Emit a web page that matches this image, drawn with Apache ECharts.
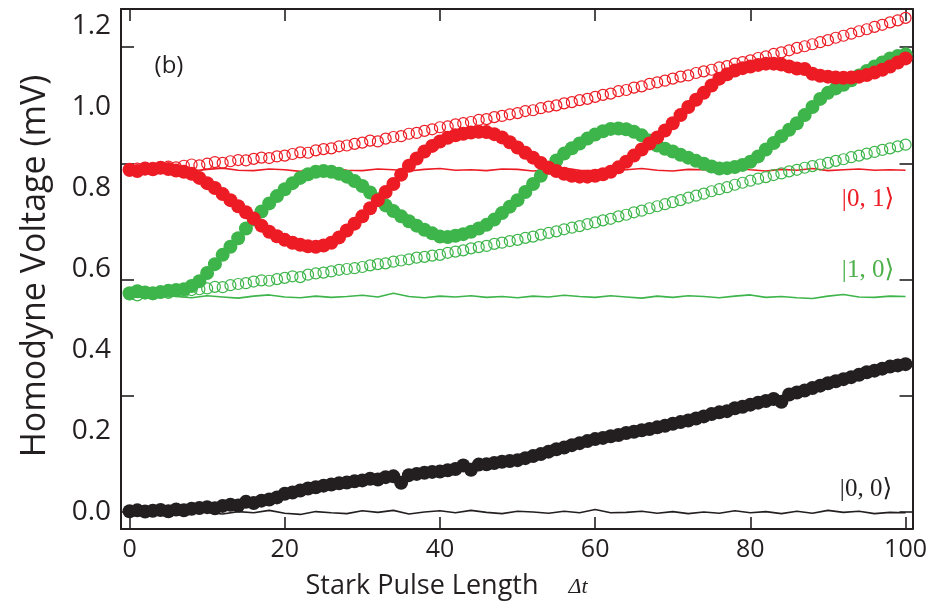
<!DOCTYPE html>
<html>
<head>
<meta charset="utf-8">
<script src="https://cdn.jsdelivr.net/npm/echarts@6/dist/echarts.min.js"></script>
<style>
html,body{margin:0;padding:0;background:#fff;}
#chart{width:930px;height:607px;}
</style>
</head>
<body>
<div id="chart"></div>
<script>
// ---------- data ----------
const pulseLength = [0,1,2,3,4,5,6,7,8,9,10,11,12,13,14,15,16,17,18,19,20,21,22,23,24,25,26,27,28,29,30,31,32,33,34,35,36,37,38,39,40,41,42,43,44,45,46,47,48,49,50,51,52,53,54,55,56,57,58,59,60,61,62,63,64,65,66,67,68,69,70,71,72,73,74,75,76,77,78,79,80,81,82,83,84,85,86,87,88,89,90,91,92,93,94,95,96,97,98,99,100];
const lineX = [0,2,4,6,8,10,12,14,16,18,20,22,24,26,28,30,32,34,36,38,40,42,44,46,48,50,52,54,56,58,60,62,64,66,68,70,72,74,76,78,80,82,84,86,88,90,92,94,96,98,100];

const redOpen = [0.843,0.848,0.846,0.850,0.849,0.853,0.851,0.855,0.858,0.856,
 0.860,0.864,0.862,0.866,0.869,0.868,0.872,0.875,0.874,0.878,
 0.880,0.884,0.888,0.887,0.893,0.896,0.898,0.903,0.905,0.909,
 0.912,0.917,0.915,0.922,0.926,0.928,0.934,0.936,0.941,0.945,
 0.950,0.952,0.957,0.960,0.963,0.968,0.970,0.975,0.978,0.982,
 0.985,0.990,0.992,0.997,1.001,1.004,1.009,1.012,1.017,1.020,
 1.025,1.030,1.033,1.039,1.042,1.048,1.051,1.057,1.061,1.065,
 1.070,1.075,1.078,1.084,1.088,1.092,1.098,1.101,1.107,1.111,
 1.115,1.121,1.125,1.131,1.135,1.140,1.146,1.150,1.155,1.160,
 1.165,1.171,1.176,1.181,1.187,1.192,1.198,1.203,1.209,1.214,1.220];

const redFilled = [0.845,0.842,0.848,0.846,0.850,0.847,0.843,0.840,0.835,0.825,
 0.812,0.800,0.785,0.770,0.755,0.740,0.725,0.707,0.692,0.681,
 0.672,0.665,0.660,0.656,0.655,0.658,0.665,0.678,0.695,0.712,
 0.730,0.750,0.770,0.790,0.810,0.833,0.855,0.873,0.890,0.904,
 0.915,0.924,0.930,0.934,0.937,0.939,0.938,0.933,0.925,0.913,
 0.900,0.887,0.875,0.862,0.850,0.842,0.835,0.830,0.828,0.828,
 0.830,0.834,0.840,0.851,0.865,0.880,0.895,0.910,0.925,0.942,
 0.960,0.980,1.000,1.018,1.035,1.053,1.070,1.081,1.090,1.096,
 1.100,1.104,1.107,1.107,1.105,1.100,1.095,1.094,1.082,1.077,
 1.075,1.073,1.072,1.073,1.075,1.079,1.085,1.092,1.100,1.110,1.120];

const greenOpen = [0.537,0.535,0.540,0.538,0.542,0.541,0.545,0.544,0.548,0.550,
 0.552,0.556,0.555,0.560,0.563,0.565,0.569,0.572,0.571,0.575,
 0.578,0.582,0.580,0.586,0.589,0.591,0.594,0.598,0.600,0.602,
 0.605,0.609,0.612,0.614,0.618,0.621,0.624,0.628,0.630,0.633,
 0.635,0.640,0.643,0.646,0.651,0.654,0.657,0.662,0.665,0.669,
 0.672,0.677,0.680,0.685,0.689,0.693,0.698,0.702,0.706,0.711,
 0.715,0.720,0.724,0.730,0.734,0.740,0.744,0.750,0.755,0.760,
 0.765,0.770,0.776,0.781,0.786,0.792,0.797,0.802,0.808,0.813,
 0.818,0.823,0.827,0.832,0.836,0.841,0.845,0.850,0.854,0.858,
 0.862,0.867,0.871,0.876,0.880,0.885,0.889,0.894,0.898,0.903,0.907];

const greenFilled = [0.540,0.545,0.542,0.540,0.543,0.546,0.548,0.550,0.558,0.570,
 0.590,0.612,0.635,0.655,0.676,0.700,0.722,0.742,0.762,0.780,
 0.797,0.812,0.825,0.834,0.840,0.842,0.840,0.835,0.828,0.817,
 0.805,0.789,0.772,0.757,0.743,0.730,0.718,0.707,0.697,0.688,
 0.680,0.679,0.682,0.686,0.692,0.700,0.709,0.722,0.738,0.754,
 0.770,0.790,0.810,0.830,0.850,0.868,0.885,0.898,0.910,0.922,
 0.932,0.940,0.946,0.947,0.945,0.939,0.930,0.917,0.905,0.897,
 0.890,0.882,0.875,0.867,0.860,0.853,0.848,0.849,0.852,0.857,
 0.865,0.878,0.895,0.911,0.928,0.944,0.960,0.980,1.000,1.020,
 1.035,1.046,1.055,1.066,1.078,1.089,1.100,1.110,1.120,1.126,1.130];

const blackFilled = [0.002,0.004,0.001,0.003,0.005,0.002,0.006,0.004,0.008,0.010,
 0.012,0.009,0.015,0.018,0.016,0.025,0.022,0.028,0.031,0.036,
 0.045,0.048,0.053,0.058,0.061,0.065,0.068,0.071,0.073,0.076,
 0.078,0.082,0.080,0.086,0.088,0.072,0.091,0.094,0.097,0.099,
 0.100,0.103,0.106,0.115,0.104,0.117,0.118,0.121,0.124,0.126,
 0.128,0.133,0.138,0.143,0.149,0.155,0.159,0.165,0.170,0.175,
 0.180,0.183,0.187,0.190,0.195,0.198,0.202,0.205,0.209,0.213,
 0.218,0.222,0.226,0.231,0.236,0.242,0.246,0.249,0.256,0.260,
 0.265,0.270,0.274,0.279,0.272,0.290,0.295,0.300,0.306,0.312,
 0.318,0.323,0.328,0.333,0.339,0.345,0.349,0.354,0.359,0.362,0.365];

const redLine = [0.846,0.843,0.848,0.845,0.842,0.846,0.849,0.844,0.843,0.847,
 0.845,0.841,0.846,0.850,0.844,0.843,0.847,0.845,0.842,0.846,
 0.848,0.844,0.845,0.843,0.847,0.846,0.842,0.845,0.849,0.844,
 0.843,0.846,0.845,0.848,0.844,0.842,0.846,0.845,0.843,0.849,
 0.845,0.842,0.846,0.844,0.848,0.843,0.845,0.847,0.844,0.845,0.844];

const greenLine = [0.533,0.530,0.535,0.532,0.529,0.534,0.531,0.528,0.533,0.536,
 0.531,0.529,0.533,0.530,0.532,0.535,0.531,0.540,0.532,0.529,
 0.533,0.531,0.534,0.530,0.532,0.529,0.533,0.531,0.535,0.532,
 0.530,0.534,0.531,0.528,0.533,0.530,0.534,0.532,0.529,0.533,
 0.536,0.530,0.532,0.529,0.527,0.533,0.537,0.531,0.530,0.533,0.532];

const blackLine = [0.002,-0.002,0.001,-0.004,0.003,-0.001,-0.005,0.001,-0.002,0.004,
 -0.003,-0.006,0.001,-0.002,-0.004,0.003,-0.001,0.004,-0.005,0.000,
 0.003,-0.002,0.004,-0.001,-0.004,0.002,0.000,-0.003,0.002,-0.002,
 0.006,-0.002,-0.001,0.002,-0.003,0.001,-0.004,0.000,-0.003,0.003,
 -0.002,0.001,-0.004,0.002,-0.003,0.004,-0.001,0.002,-0.004,-0.001,-0.002];

const xLabelValues = [0,20,40,60,80,100];
const yLabelValues = [0,0.2,0.4,0.6,0.8,1.0,1.2];
const yTickValues = [0,0.287,0.574,0.861,1.148];

const stateLabels = ['|0, 1\u27E9','|1, 0\u27E9','|0, 0\u27E9'];
const panelLabel = '(b)';
const yTitle = 'Homodyne Voltage (mV)';
const xTitle = 'Stark Pulse Length';
const xTitleSymbol = '\u0394t';

// ---------- chart ----------
const RED = '#ED1C24', GREEN = '#3DB54A', BLACK = '#231F20';
const pairs = (xs, ys) => xs.map((x, i) => [x, ys[i]]);
const X_MIN = -1.1, X_MAX = 100.9, Y_MIN = -0.042, Y_MAX = 1.242;
const FONT = '"Open Sans", sans-serif';
const SERIF = '"Liberation Serif", "DejaVu Serif", serif';

const axisLine = {show: true, onZero: false, lineStyle: {color: BLACK, width: 2}};
const tickStyle = {color: BLACK, width: 1.6};

const chart = echarts.init(document.getElementById('chart'), null, {renderer: 'canvas'});
chart.setOption({
  animation: false,
  backgroundColor: '#fff',
  grid: {left: 121, right: 16, top: 9, bottom: 78, containLabel: false},
  xAxis: [{
    type: 'value', position: 'bottom', min: X_MIN, max: X_MAX,
    axisLine: axisLine, splitLine: {show: false},
    axisTick: {show: true, inside: true, length: 12, lineStyle: tickStyle, customValues: xLabelValues},
    axisLabel: {show: true, customValues: xLabelValues, color: BLACK, fontSize: 25, fontFamily: FONT, margin: 8,
      formatter: v => String(Math.round(v))}
  }, {
    type: 'value', position: 'top', min: X_MIN, max: X_MAX,
    axisLine: axisLine, splitLine: {show: false},
    axisTick: {show: true, inside: true, length: 12, lineStyle: tickStyle, customValues: xLabelValues},
    axisLabel: {show: false}
  }],
  yAxis: [{
    type: 'value', position: 'left', min: Y_MIN, max: Y_MAX,
    axisLine: axisLine, splitLine: {show: false},
    axisTick: {show: true, inside: true, length: 13, lineStyle: tickStyle, customValues: yTickValues},
    axisLabel: {show: true, customValues: yLabelValues, color: BLACK, fontSize: 28, fontFamily: FONT, margin: 10,
      formatter: v => v.toFixed(1)}
  }, {
    type: 'value', position: 'right', min: Y_MIN, max: Y_MAX,
    axisLine: axisLine, splitLine: {show: false},
    axisTick: {show: true, inside: true, length: 13, lineStyle: tickStyle, customValues: yTickValues},
    axisLabel: {show: false}
  }],
  series: [
    {type: 'line', data: pairs(lineX, redLine), symbol: 'none', lineStyle: {color: RED, width: 1.6}, z: 2},
    {type: 'line', data: pairs(lineX, greenLine), symbol: 'none', lineStyle: {color: GREEN, width: 1.6}, z: 2},
    {type: 'line', data: pairs(lineX, blackLine), symbol: 'none', lineStyle: {color: BLACK, width: 1.6}, z: 2},
    {type: 'scatter', data: pairs(pulseLength, redOpen), symbol: 'circle', symbolSize: 11,
      itemStyle: {color: 'rgba(255,255,255,0)', borderColor: RED, borderWidth: 1.2, opacity: 1}, z: 3},
    {type: 'scatter', data: pairs(pulseLength, greenOpen), symbol: 'circle', symbolSize: 11,
      itemStyle: {color: 'rgba(255,255,255,0)', borderColor: GREEN, borderWidth: 1.2, opacity: 1}, z: 3},
    {type: 'scatter', data: pairs(pulseLength, greenFilled), symbol: 'circle', symbolSize: 14,
      itemStyle: {color: GREEN, opacity: 1}, z: 4},
    {type: 'scatter', data: pairs(pulseLength, redFilled), symbol: 'circle', symbolSize: 14,
      itemStyle: {color: RED, opacity: 1}, z: 5},
    {type: 'scatter', data: pairs(pulseLength, blackFilled), symbol: 'circle', symbolSize: 14,
      itemStyle: {color: BLACK, opacity: 1}, z: 5}
  ],
  graphic: [
    {type: 'text', x: 169, y: 66, style: {text: panelLabel, font: '24px ' + FONT, fill: BLACK, align: 'center', verticalAlign: 'middle'}},
    {type: 'text', x: 868, y: 199, style: {text: stateLabels[0], font: '25px ' + SERIF, fill: RED, align: 'center', verticalAlign: 'middle'}},
    {type: 'text', x: 868, y: 270, style: {text: stateLabels[1], font: '25px ' + SERIF, fill: '#4DB04A', align: 'center', verticalAlign: 'middle'}},
    {type: 'text', x: 866, y: 489, style: {text: stateLabels[2], font: '25px ' + SERIF, fill: BLACK, align: 'center', verticalAlign: 'middle'}},
    {type: 'text', x: 35, y: 266, rotation: Math.PI / 2, style: {text: yTitle, font: '34px ' + FONT, fill: BLACK, align: 'center', verticalAlign: 'middle'}},
    {type: 'text', x: 422, y: 586, style: {text: xTitle, font: '27px ' + FONT, fill: BLACK, align: 'center', verticalAlign: 'middle'}},
    {type: 'text', x: 578, y: 587, style: {text: xTitleSymbol, font: 'italic 22px ' + SERIF, fill: BLACK, align: 'center', verticalAlign: 'middle'}}
  ]
});
</script>
</body>
</html>
